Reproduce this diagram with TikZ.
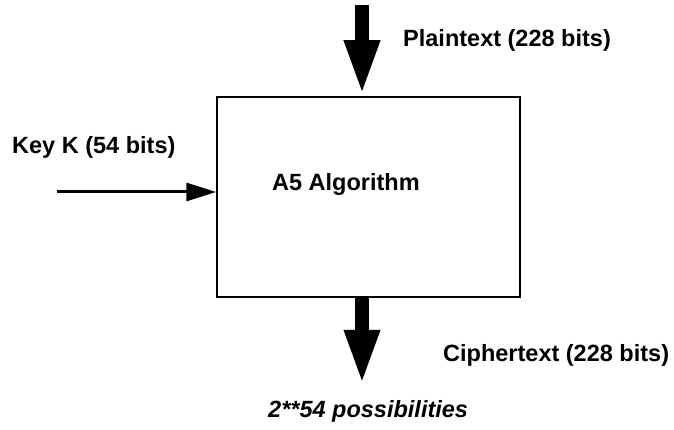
\documentclass[tikz,border=0pt]{standalone}
\usepackage{fontspec}
\setmainfont{Liberation Sans}
\usetikzlibrary{positioning, arrows.meta}

\begin{document}
\begin{tikzpicture}[x=1pt, y=-1pt, every node/.style={font=\bfseries\fontsize{23.5}{28}\selectfont, inner sep=0pt}]
    \useasboundingbox (0,0) rectangle (674,430);

    \tikzset{
        bigarrow/.style={line width=14pt, -{Triangle[width=32pt, length=56pt]}},
        keyarrow/.style={line width=3pt, -{Triangle[width=18pt, length=30pt]}}
    }

    \node (algo) [draw, line width=1.5pt, minimum width=303pt, minimum height=200pt] at (368.5,197) {};
    \node (name) [anchor=west] at (272,184) {A5 Algorithm};

    \coordinate (plainsrc) at (362,5);
    \coordinate (keysrc)   at (57,192);

    \node (plain)  [anchor=west] at (403,40)  {Plaintext (228 bits)};
    \node (key)    [anchor=west] at (12,147)  {Key K (54 bits)};
    \node (cipher) [anchor=west] at (443,355) {Ciphertext (228 bits)};
    \node (poss)   [anchor=west] at (268,411) {\itshape 2**54 possibilities};

    \draw[bigarrow] (plainsrc) -- (plainsrc |- algo.north);
    \draw[bigarrow] (plainsrc |- algo.south) -- ++(0,88);
    \draw[keyarrow] (keysrc) -- (keysrc -| algo.west);
\end{tikzpicture}
\end{document}
